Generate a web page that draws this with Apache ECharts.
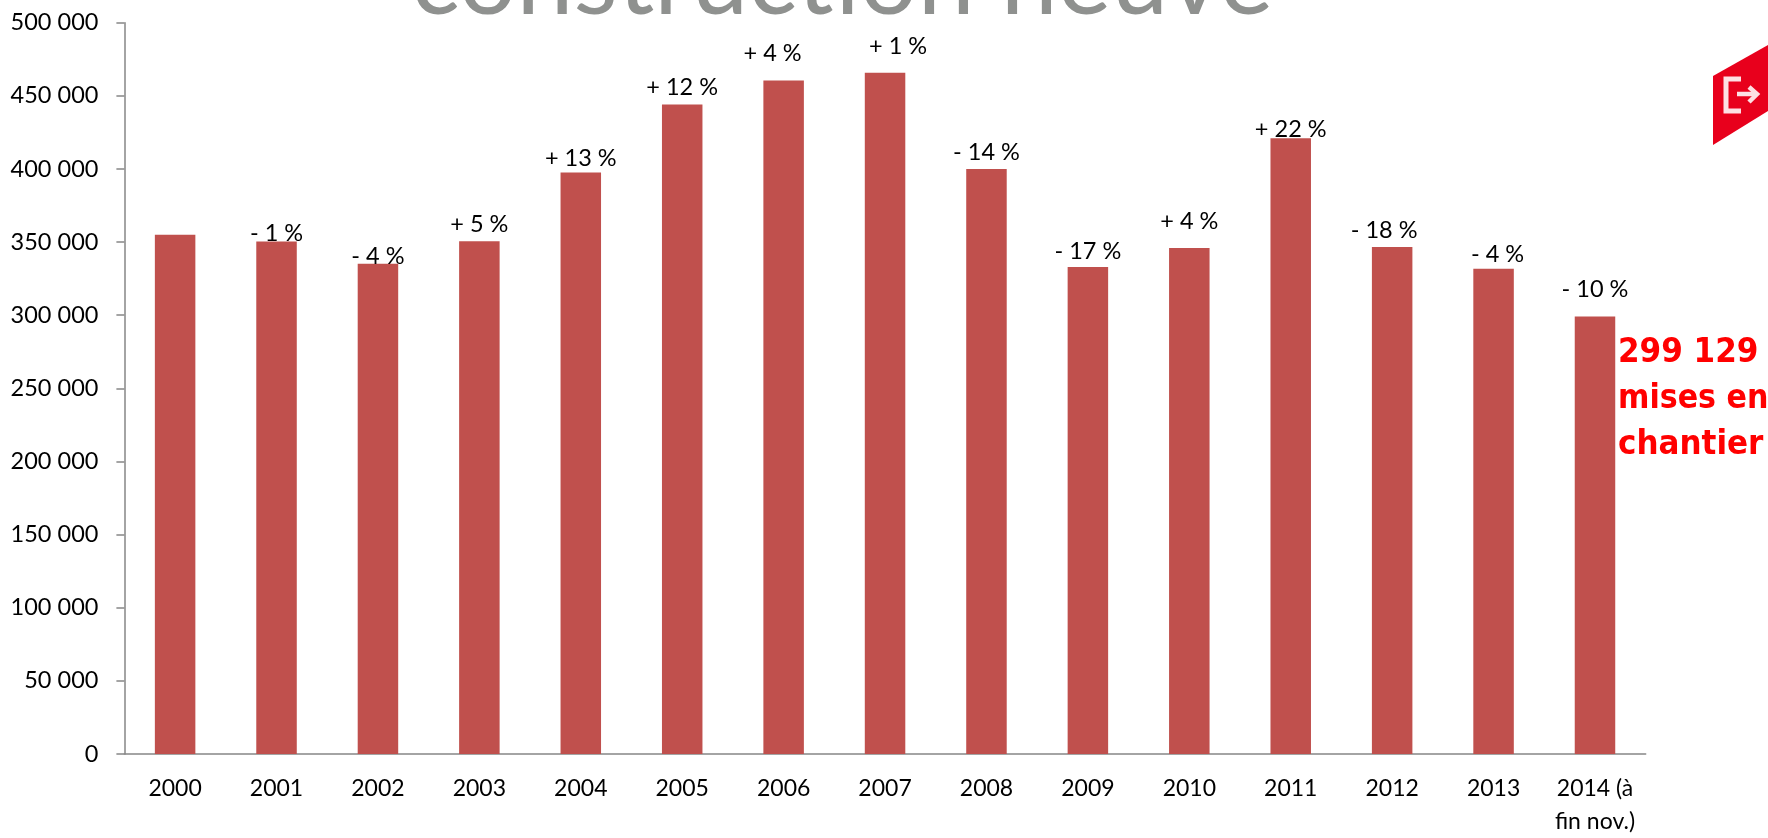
<!DOCTYPE html>
<html><head><meta charset="utf-8">
<style>html,body{margin:0;padding:0;background:#fff}#c{width:1768px;height:838px}</style>
<script src="https://cdn.jsdelivr.net/npm/echarts@6/dist/echarts.min.js"></script>
</head><body><div id="c"></div>
<script>
const categories = ['2000','2001','2002','2003','2004','2005','2006','2007','2008','2009','2010','2011','2012','2013','2014 (à\nfin nov.)'];
const starts = [355000,350400,335200,350500,397600,444000,460400,465800,400000,333000,346000,421000,346600,331800,299129];
const changes = ['','- 1 %','- 4 %','+ 5 %','+ 13 %','+ 12 %','+ 4 %','+ 1 %','- 14 %','- 17 %','+ 4 %','+ 22 %','- 18 %','- 4 %','- 10 %'];
const labelNudgeX = [0,0,0,0,0,0,-11,13,0,0,0,0,-8,4,0];
const labelNudgeY = [0,-7.7,-7.3,-16.7,-14,-16.7,-26.7,-26.3,-17,-15.8,-27,-9,-17,-14,-27];
const titleText = 'construction neuve';
const noteLines = ['299 129','mises en','chantier'];
const font = 'Lato';
const chart = echarts.init(document.getElementById('c'), null, {renderer:'canvas'});
chart.setOption({
  animation:false,
  backgroundColor:'#fff',
  grid:{left:124.4,right:122.3,top:22.7,bottom:80.3},
  xAxis:{type:'category',data:categories,boundaryGap:true,
    axisLine:{lineStyle:{color:'#868686',width:1.5}},
    axisTick:{alignWithLabel:false,length:8,lineStyle:{color:'#868686',width:1.5}},
    axisLabel:{color:'#000',fontFamily:font,fontSize:23,lineHeight:33,margin:18,interval:0}},
  yAxis:{type:'value',min:0,max:500000,interval:50000,splitLine:{show:false},
    axisLine:{show:true,lineStyle:{color:'#868686',width:1.5}},
    axisTick:{show:true,length:8,lineStyle:{color:'#868686',width:1.5}},
    axisLabel:{color:'#000',fontFamily:font,fontSize:23.5,margin:26,
      formatter:v=>String(v).replace(/\B(?=(\d{3})+$)/g,' ')}},
  series:[{type:'bar',barWidth:40.5,itemStyle:{color:'#C0504D'},
    data:starts.map((v,i)=>({value:v,label:{show:!!changes[i],position:'top',distance:0,
      offset:[labelNudgeX[i],labelNudgeY[i]+11],formatter:changes[i],
      color:'#000',fontFamily:font,fontSize:23.5,lineHeight:22}}))}],
  graphic:[
    {type:'text',left:411,top:-69.5,style:{text:titleText,fontFamily:font,fontWeight:400,fontSize:102,fill:'#8f918f'},z:10},
    {type:'text',left:1618,top:336,style:{text:noteLines[0],fontFamily:'DejaVu Sans Condensed',fontWeight:'bold',fontSize:34.5,fill:'#ff0000'}},
    {type:'text',left:1618,top:382,style:{text:noteLines[1],fontFamily:'DejaVu Sans Condensed',fontWeight:'bold',fontSize:33.5,fill:'#ff0000'}},
    {type:'text',left:1618,top:427.5,style:{text:noteLines[2],fontFamily:'DejaVu Sans Condensed',fontWeight:'bold',fontSize:34.5,fill:'#ff0000'}},
    {type:'polygon',shape:{points:[[1713,76],[1768,45],[1768,111],[1713,145]]},style:{fill:'#e8001c'}},
    {type:'polyline',shape:{points:[[1741,79],[1726,79],[1726,111],[1741,111]]},style:{stroke:'#fde0e4',fill:'none',lineWidth:5}},
    {type:'polyline',shape:{points:[[1737,94],[1756,94]]},style:{stroke:'#fde0e4',lineWidth:4.5}},
    {type:'polyline',shape:{points:[[1749,87],[1757,94],[1749,102]]},style:{stroke:'#fde0e4',fill:'none',lineWidth:4.5}}
  ]
});
</script></body></html>
